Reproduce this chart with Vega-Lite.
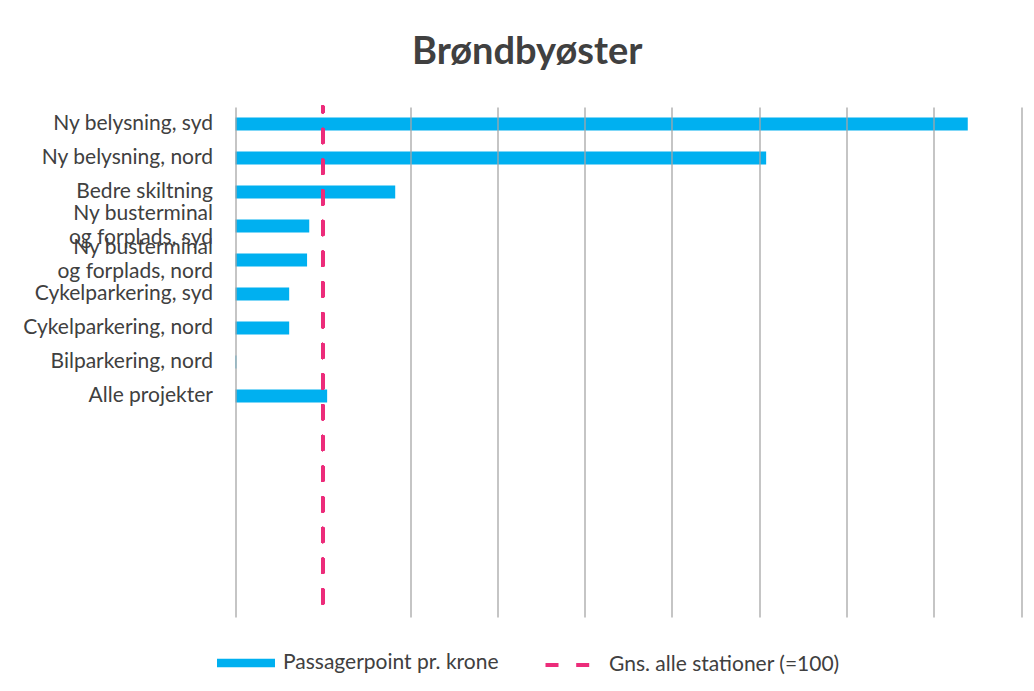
{
  "$schema": "https://vega.github.io/schema/vega-lite/v6.json",
  "autosize": {"type": "none"},
  "padding": {"left": 235.5, "top": 107, "right": 13, "bottom": 74},
  "width": 785.5,
  "height": 510,
  "background": "white",
  "config": {"view": {"stroke": null}, "font": "Lato"},
  "title": {
    "text": "Brøndbyøster",
    "font": "Lato",
    "fontSize": 38,
    "fontWeight": "bold",
    "color": "#404040",
    "anchor": "middle",
    "frame": "group",
    "dx": -101,
    "baseline": "alphabetic",
    "offset": 3
  },
  "data": {
    "values": [
      {"kategori": "Ny belysning, syd", "vaerdi": 839},
      {"kategori": "Ny belysning, nord", "vaerdi": 608},
      {"kategori": "Bedre skiltning", "vaerdi": 183},
      {"kategori": "Ny busterminal og forplads, syd", "vaerdi": 84.5},
      {"kategori": "Ny busterminal og forplads, nord", "vaerdi": 82},
      {"kategori": "Cykelparkering, syd", "vaerdi": 61.5},
      {"kategori": "Cykelparkering, nord", "vaerdi": 61.5},
      {"kategori": "Bilparkering, nord", "vaerdi": 1},
      {"kategori": "Alle projekter", "vaerdi": 105}
    ]
  },
  "encoding": {
    "y": {
      "field": "kategori",
      "type": "nominal",
      "sort": null,
      "scale": {
        "domain": ["Ny belysning, syd", "Ny belysning, nord", "Bedre skiltning", "Ny busterminal og forplads, syd", "Ny busterminal og forplads, nord", "Cykelparkering, syd", "Cykelparkering, nord", "Bilparkering, nord", "Alle projekter", "_1", "_2", "_3", "_4", "_5", "_6"],
        "paddingInner": 0.62,
        "paddingOuter": 0.31
      },
      "axis": {
        "title": null,
        "ticks": false,
        "domain": false,
        "labelPadding": 23,
        "labelFont": "Lato",
        "labelFontSize": 21,
        "labelColor": "#404040",
        "labelLineHeight": 24,
        "labelLimit": 400,
        "labelOffset": {"condition": {"test": "test(/busterminal/, datum.value)", "value": -12}, "value": 0},
        "labelExpr": "test(/^_/, datum.value) ? '' : test(/busterminal/, datum.value) ? ['Ny busterminal', replace(datum.value, 'Ny busterminal ', '')] : datum.value == 'Ny belysning, syd' ? 'Ny belysning, syd\u00a0' : datum.value"
      }
    }
  },
  "layer": [
    {
      "mark": {"type": "bar", "opacity": 1},
      "encoding": {
        "x": {
          "field": "vaerdi",
          "type": "quantitative",
          "scale": {"domain": [0, 900], "nice": false, "zero": true},
          "axis": {
            "title": null,
            "labels": false,
            "ticks": false,
            "domain": false,
            "values": [0, 100, 200, 300, 400, 500, 600, 700, 800, 900],
            "grid": true,
            "gridColor": {"condition": {"test": "datum.value == 100", "value": "transparent"}, "value": "#A6A6A6"},
            "gridWidth": 1.3,
            "zindex": 1
          }
        },
        "color": {
          "datum": "Passagerpoint pr. krone",
          "type": "nominal",
          "scale": {"domain": ["Passagerpoint pr. krone"], "range": ["#00B0F0"]},
          "legend": {
            "title": null,
            "orient": "none",
            "direction": "horizontal",
            "legendX": -18.5,
            "legendY": 527,
            "padding": 0,
            "symbolType": "M-1,-0.15H1V0.15H-1Z",
            "symbolSize": 3364,
            "symbolStrokeWidth": 0,
            "symbolOpacity": 1,
            "labelOffset": 8,
            "labelFont": "Lato",
            "labelFontSize": 21,
            "labelColor": "#404040",
            "labelLimit": 400
          }
        }
      }
    },
    {
      "mark": {"type": "rule", "color": "#EC2C7A", "strokeWidth": 3.5, "strokeDashOffset": 8.2, "strokeCap": "round"},
      "encoding": {
        "x": {"datum": 100, "type": "quantitative"},
        "y": null,
        "strokeDash": {
          "datum": "Gns. alle stationer (=100)",
          "type": "nominal",
          "scale": {"domain": ["Gns. alle stationer (=100)"], "range": [[13, 17.7]]},
          "legend": {
            "title": null,
            "orient": "none",
            "direction": "horizontal",
            "legendX": 308,
            "legendY": 534,
            "padding": 0,
            "symbolType": "stroke",
            "symbolSize": 1936,
            "symbolStrokeColor": "#EC2C7A",
            "symbolStrokeWidth": 4,
            "symbolOpacity": 1,
            "labelOffset": 17.5,
            "labelFont": "Lato",
            "labelFontSize": 21,
            "labelColor": "#404040",
            "labelLimit": 400
          }
        }
      }
    }
  ]
}
